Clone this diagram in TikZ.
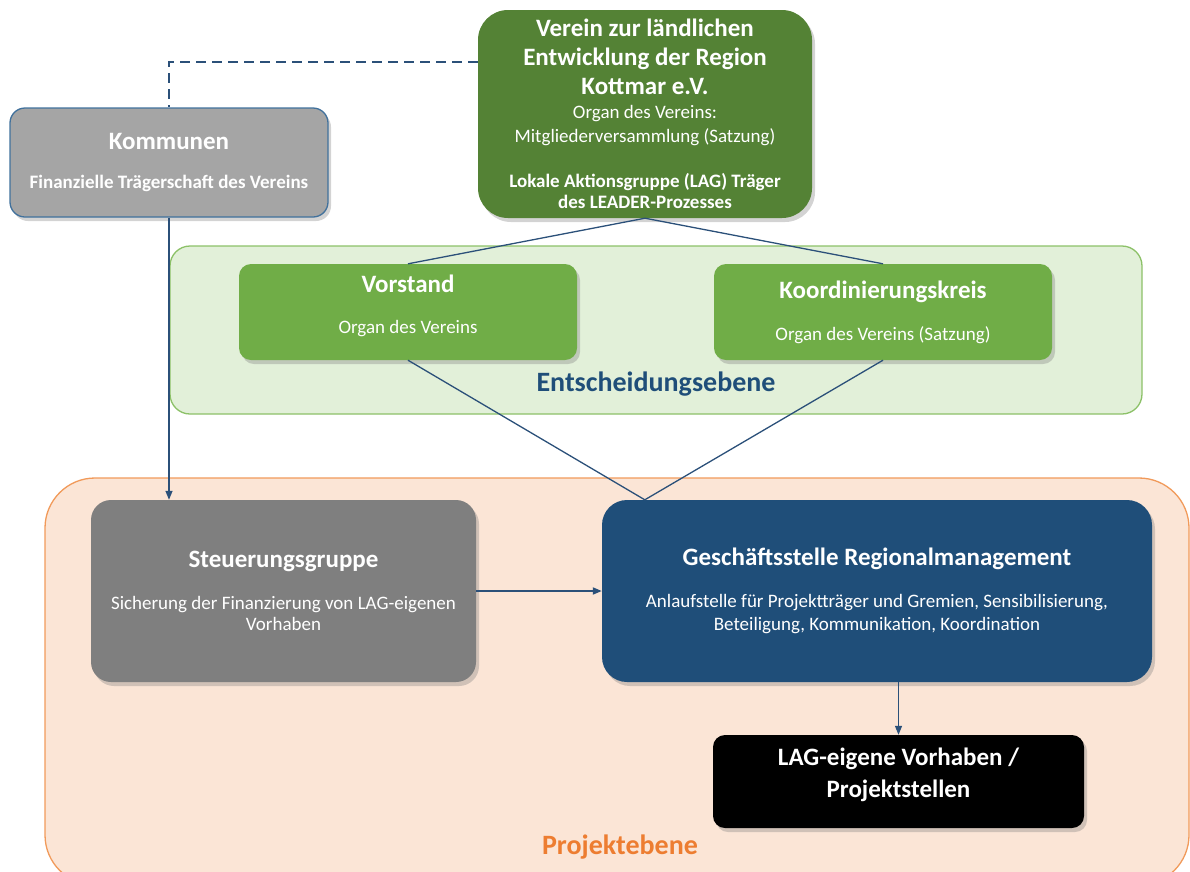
\documentclass[tikz,border=0pt]{standalone}
\usepackage{fontspec}
\setmainfont{Carlito}
\usepackage{xcolor}
\definecolor{vereinGreen} {HTML}{548235}
\definecolor{organGreen}  {HTML}{70AD47}
\definecolor{entschBack}  {HTML}{E2F0D9}
\definecolor{entschLine}  {HTML}{8CC168}
\definecolor{kommGray}    {HTML}{A5A5A5}
\definecolor{kommLine}    {HTML}{41719C}
\definecolor{steuerGray}  {HTML}{7F7F7F}
\definecolor{gsBlue}      {HTML}{1F4E79}
\definecolor{projBack}    {HTML}{FBE5D6}
\definecolor{projLine}    {HTML}{F19A5A}
\definecolor{projText}    {HTML}{ED7D31}
\definecolor{connLine}    {HTML}{2B5079}
\usetikzlibrary{arrows.meta, positioning, calc, shadows}
\newcommand{\ttlfont}{\fontsize{25}{29}\selectfont\bfseries}
\newcommand{\subfont}{\fontsize{19}{21}\selectfont\mdseries}

\begin{document}
\begin{tikzpicture}[
    x=1pt, y=-1pt,
    every node/.style={font=\fontsize{19}{21}\selectfont, text=white, align=center},
    box/.style={rectangle, inner sep=2pt,
                drop shadow={shadow xshift=3pt, shadow yshift=-4pt, opacity=0.35}},
    layer/.style={rectangle, draw, line width=1.3pt},
    lab/.style={font=\fontsize{28}{32}\selectfont\bfseries},
    conn/.style={draw=connLine, line width=1.3pt},
    arr/.style={conn, -{Triangle[length=9pt, width=7pt]}}
]
\useasboundingbox (0,0) rectangle (1190,871);
% Ebenen
\node[layer, draw=projLine, fill=projBack, rounded corners=50pt,
      minimum width=1144pt, minimum height=407pt] (projekt) at (617,681.5) {};
\node[layer, draw=entschLine, fill=entschBack, rounded corners=20pt,
      minimum width=972pt, minimum height=168pt] (entsch) at (656,330) {};
\node[lab, text=gsBlue] (entschlab) at (656,384) {Entscheidungsebene};
\node[lab, text=projText] (projlab) at (620,847) {Projektebene};

% Boxen
\node[box, fill=vereinGreen, rounded corners=30pt,
      minimum width=334pt, minimum height=208pt] (verein) at (645,114)
  {\ttlfont Verein zur ländlichen\\[8pt] \ttlfont Entwicklung der Region\\[8pt]
   \ttlfont Kottmar e.V.\\[3pt]
   \subfont Organ des Vereins:\\[3pt] \subfont Mitgliederversammlung (Satzung)\\[24pt]
   \subfont\bfseries Lokale Aktionsgruppe (LAG) Träger\\
   \subfont\bfseries des LEADER-Prozesses};
\node[box, fill=kommGray, draw=kommLine, line width=1.3pt, rounded corners=15pt,
      minimum width=318pt, minimum height=109pt] (kommunen) at (169,162.5)
  {\ttlfont Kommunen\\[18pt] \subfont\bfseries Finanzielle Trägerschaft des Vereins};
\node[box, fill=organGreen, rounded corners=12pt,
      minimum width=338pt, minimum height=96pt] (vorstand) at (408,312)
  {\ttlfont Vorstand\\[20pt] \subfont Organ des Vereins\\[-5pt]};
\node[box, fill=organGreen, rounded corners=12pt,
      minimum width=338pt, minimum height=96pt] (koord) at (883,312)
  {\ttlfont Koordinierungskreis\\[21pt] \subfont Organ des Vereins (Satzung)};
\node[box, fill=steuerGray, rounded corners=20pt,
      minimum width=385pt, minimum height=182pt] (steuer) at (283.5,591)
  {\ttlfont Steuerungsgruppe\\[21pt]
   \subfont Sicherung der Finanzierung von LAG-eigenen\\ \subfont Vorhaben};
\node[box, fill=gsBlue, rounded corners=25pt,
      minimum width=550pt, minimum height=182pt] (gs) at (877,591)
  {\ttlfont Geschäftsstelle Regionalmanagement\\[21pt]
   \subfont Anlaufstelle für Projektträger und Gremien, Sensibilisierung,\\[2pt]
   \subfont Beteiligung, Kommunikation, Koordination};
\node[box, fill=black, rounded corners=12pt,
      minimum width=371pt, minimum height=93pt] (lag) at (898.5,781.5)
  {\ttlfont LAG-eigene Vorhaben /\\[9pt] \ttlfont Projektstellen\\[-4pt]};

% Verbindungen
\coordinate (meet) at ([xshift=43pt]gs.north west);
\draw[conn, line width=1.6pt, dash pattern=on 10pt off 6pt]
  ([yshift=52pt]verein.west) -| (kommunen.north);
\draw[conn] (verein.south) -- (vorstand.north);
\draw[conn] (verein.south) -- (koord.north);
\draw[conn] (vorstand.south) -- (meet);
\draw[conn] (koord.south) -- (meet);
\draw[arr] (kommunen.south) -- (kommunen.south |- steuer.north);
\draw[arr, line width=1.8pt] (steuer.east) -- (gs.west);
\draw[arr] (lag.north |- gs.south) -- (lag.north);
\end{tikzpicture}
\end{document}
